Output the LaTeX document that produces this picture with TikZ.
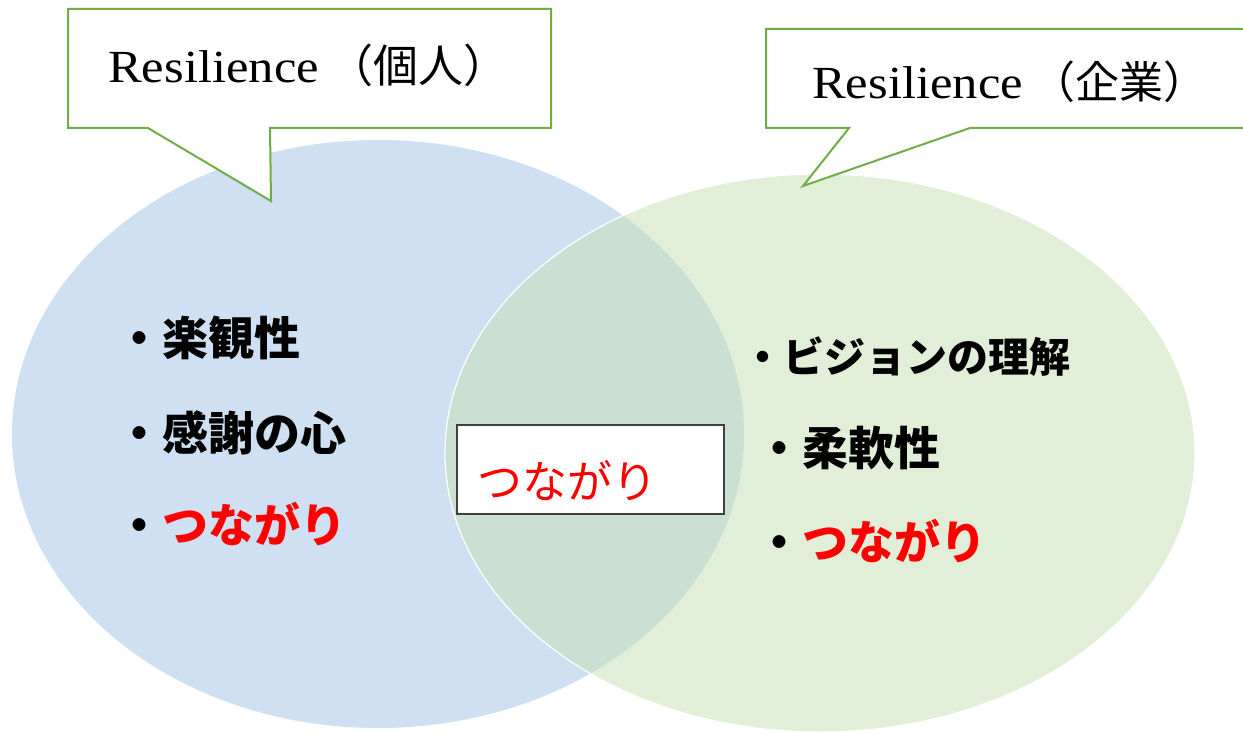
\documentclass[tikz,border=0pt]{standalone}
\usepackage{fontspec}
\usepackage{graphicx}
\setmainfont{Liberation Serif}
\newfontfamily\jp{Noto Sans CJK JP}
\newcommand\setfs[1]{\fontsize{#1}{#1}\selectfont}
\definecolor{blueF}{HTML}{CEE0F1}
\definecolor{greenF}{HTML}{C5E0B4}
\definecolor{calloutC}{HTML}{70AD47}
\definecolor{boxline}{HTML}{404040}
\definecolor{redT}{HTML}{FF0000}
\tikzset{
  calloutbox/.style={draw=calloutC, fill=white, line width=2pt, line join=miter},
  listitem/.style={anchor=base west, inner sep=0pt, font=\jp\bfseries\setfs{46}},
  title/.style={anchor=base west, inner sep=0pt},
}
\begin{document}
\begin{tikzpicture}[x=1pt,y=-1pt]
\useasboundingbox (0,0) rectangle (1243,733);
\fill[white] (0,0) rectangle (1243,733);
% ellipses
\path[fill=blueF] (378,434) ellipse [x radius=366pt, y radius=294pt];
\path[fill=greenF, fill opacity=0.5, draw=white, line width=1.2pt] (820,453) ellipse [x radius=375pt, y radius=279pt];
% callouts
\path[calloutbox] (68,9) -- (551,9) -- (551,128) -- (270,128) -- (271,201) -- (148,128) -- (68,128) -- cycle;
\path[calloutbox] (766,29) -- (1260,29) -- (1260,128) -- (970,128) -- (803,186) -- (849,128) -- (766,128) -- cycle;
\node[title] (tl) at (108,83) {\scalebox{1.1}[1]{\setfs{46}Resilience}\hspace{10pt}{\jp\setfs{45}（個人）}};
\node[title] (tr) at (812,99) {\scalebox{1.1}[1]{\setfs{46}Resilience}\hspace{9pt}{\jp\setfs{44}（企業）}};
% left list
\node[listitem] (l1) at (116,355) {・楽観性};
\node[listitem] (l2) at (116,450) {・感謝の心};
\node[listitem] (l3) at (116,542) {・\textcolor{redT}{つながり}};
% right list
\node[listitem, font=\jp\bfseries\setfs{41}] (r1) at (742,372) {・ビジョンの理解};
\node[listitem] (r2) at (756,465) {・柔軟性};
\node[listitem] (r3) at (756,559) {・\textcolor{redT}{つながり}};
% middle box
\node[draw=boxline, fill=white, line width=1.5pt, minimum width=267pt, minimum height=89pt, inner sep=0pt] (mid) at (590.5,469.5) {};
\node[anchor=base west, inner sep=0pt, text=redT, font=\jp\setfs{45}] (midt) at (477,498) {つながり};
\end{tikzpicture}
\end{document}
